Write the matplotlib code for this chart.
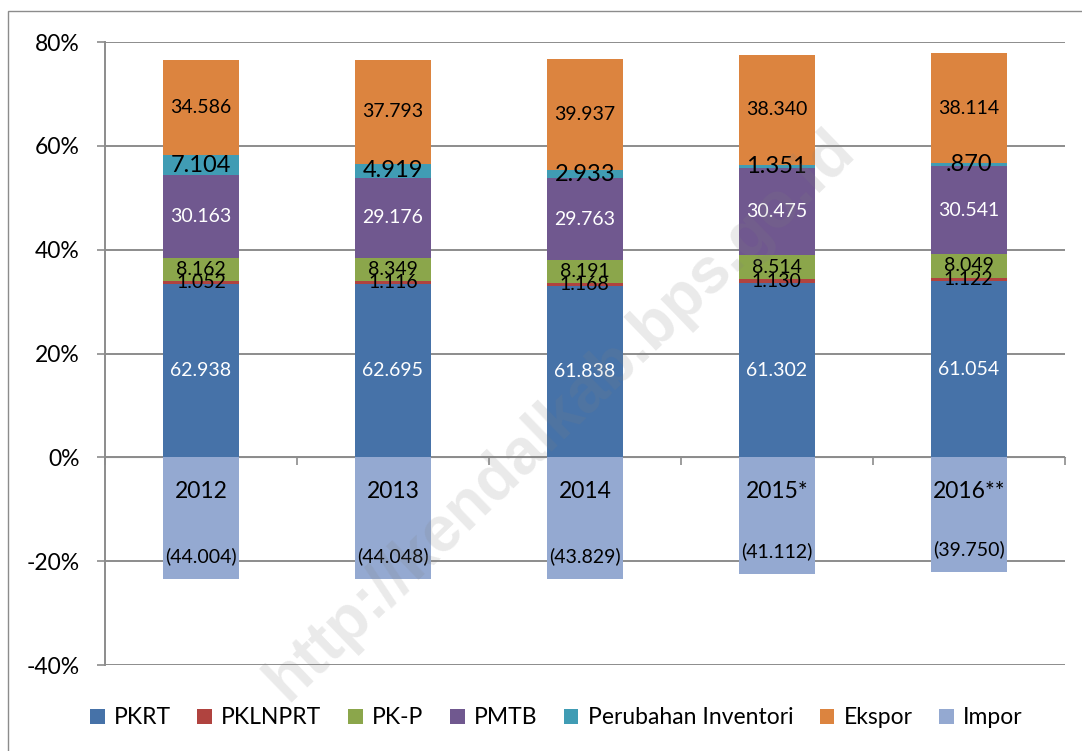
import matplotlib
matplotlib.use("Agg")
import matplotlib.pyplot as plt
from matplotlib.patches import Rectangle
import numpy as np

plt.rcParams['font.family'] = ['Lato', 'DejaVu Sans']

years = ["2012", "2013", "2014", "2015*", "2016**"]
pkrt = [62.938, 62.695, 61.838, 61.302, 61.054]
pklnprt = [1.052, 1.116, 1.168, 1.130, 1.122]
pkp = [8.162, 8.349, 8.191, 8.514, 8.049]
pmtb = [30.163, 29.176, 29.763, 30.475, 30.541]
inventori = [7.104, 4.919, 2.933, 1.351, 0.870]
ekspor = [34.586, 37.793, 39.937, 38.340, 38.114]
impor = [-44.004, -44.048, -43.829, -41.112, -39.750]

series = [
    ("PKRT", pkrt, "#4672a8", "white", 14),
    ("PKLNPRT", pklnprt, "#b0433f", "black", 14),
    ("PK-P", pkp, "#8ba64b", "black", 14),
    ("PMTB", pmtb, "#70588f", "white", 14),
    ("Perubahan Inventori", inventori, "#409cb4", "black", 17),
    ("Ekspor", ekspor, "#dc843f", "black", 14),
]
impor_color = "#94a9d1"


def fmt(v):
    s = "%.3f" % abs(v)
    if s.startswith("0."):
        s = s[1:]
    return "(%s)" % s if v < 0 else s


x = np.arange(len(years))
total = np.sum(np.abs([pkrt, pklnprt, pkp, pmtb, inventori, ekspor, impor]), axis=0)

fig = plt.figure(figsize=(10.82, 7.51), dpi=100)
ax = fig.add_axes([0.097, 0.1145, 0.887, 0.8295])
width = 0.396

bottom = np.zeros(len(years))
handles = []
for name, vals, col, tcol, fs in series:
    h = np.array(vals) / total * 100
    b = ax.bar(x, h, width, bottom=bottom, color=col, label=name, zorder=1)
    handles.append(b)
    for i in range(len(years)):
        ax.text(x[i], bottom[i] + h[i] / 2, fmt(vals[i]), ha='center', va='center',
                color=tcol, fontsize=fs, zorder=3)
    bottom = bottom + h

h_imp = np.array(impor) / total * 100
b = ax.bar(x, h_imp, width, color=impor_color, label="Impor", zorder=1)
handles.append(b)
for i in range(len(years)):
    ax.text(x[i], h_imp[i] + 4.4, fmt(impor[i]), ha='center', va='center',
            color='black', fontsize=14, zorder=3)

ax.set_ylim(-40, 80)
ax.set_xlim(-0.5, 4.5)
yt = [-40, -20, 0, 20, 40, 60, 80]
ax.set_yticks(yt)
ax.set_yticklabels(["%d%%" % v for v in yt])
for v in yt:
    ax.axhline(v, color='#8c8c8c', lw=1.4, zorder=0.5)

ax.set_xticks(x)
ax.set_xticklabels(years)
ax.set_xticks(np.arange(-0.5, 5, 1), minor=True)
ax.tick_params(axis='x', which='major', length=0, pad=17, labelsize=16.5)
ax.tick_params(axis='x', which='minor', length=6, width=1.2, color='#8c8c8c', direction='out')
ax.tick_params(axis='y', length=6, width=1.2, color='#8c8c8c', pad=12, labelsize=16.5)

ax.spines['top'].set_visible(False)
ax.spines['right'].set_visible(False)
ax.spines['bottom'].set_position(('data', 0))
ax.spines['bottom'].set_color('#8c8c8c')
ax.spines['bottom'].set_zorder(0.6)
ax.spines['left'].set_color('#8c8c8c')
ax.spines['left'].set_linewidth(1.4)

fig.legend(handles=handles, loc='center', bbox_to_anchor=(0.514, 0.044), ncol=7,
           frameon=False, fontsize=16.5, handlelength=0.65, handleheight=0.65,
           handletextpad=0.4, columnspacing=1.15)

# watermark
fig.text(0.518, 0.447, "http://kendalkab.bps.go.id", rotation=44, ha='center', va='center',
         fontsize=46, fontweight='bold', family='Liberation Sans', color='gray', alpha=0.17,
         zorder=10)

fig.patches.append(Rectangle((8 / 1082, -0.05), 1.1, 1.05 - 11 / 751, transform=fig.transFigure,
                             fill=False, edgecolor='#8c8c8c', lw=1))

fig.savefig("out.png", dpi=100)
